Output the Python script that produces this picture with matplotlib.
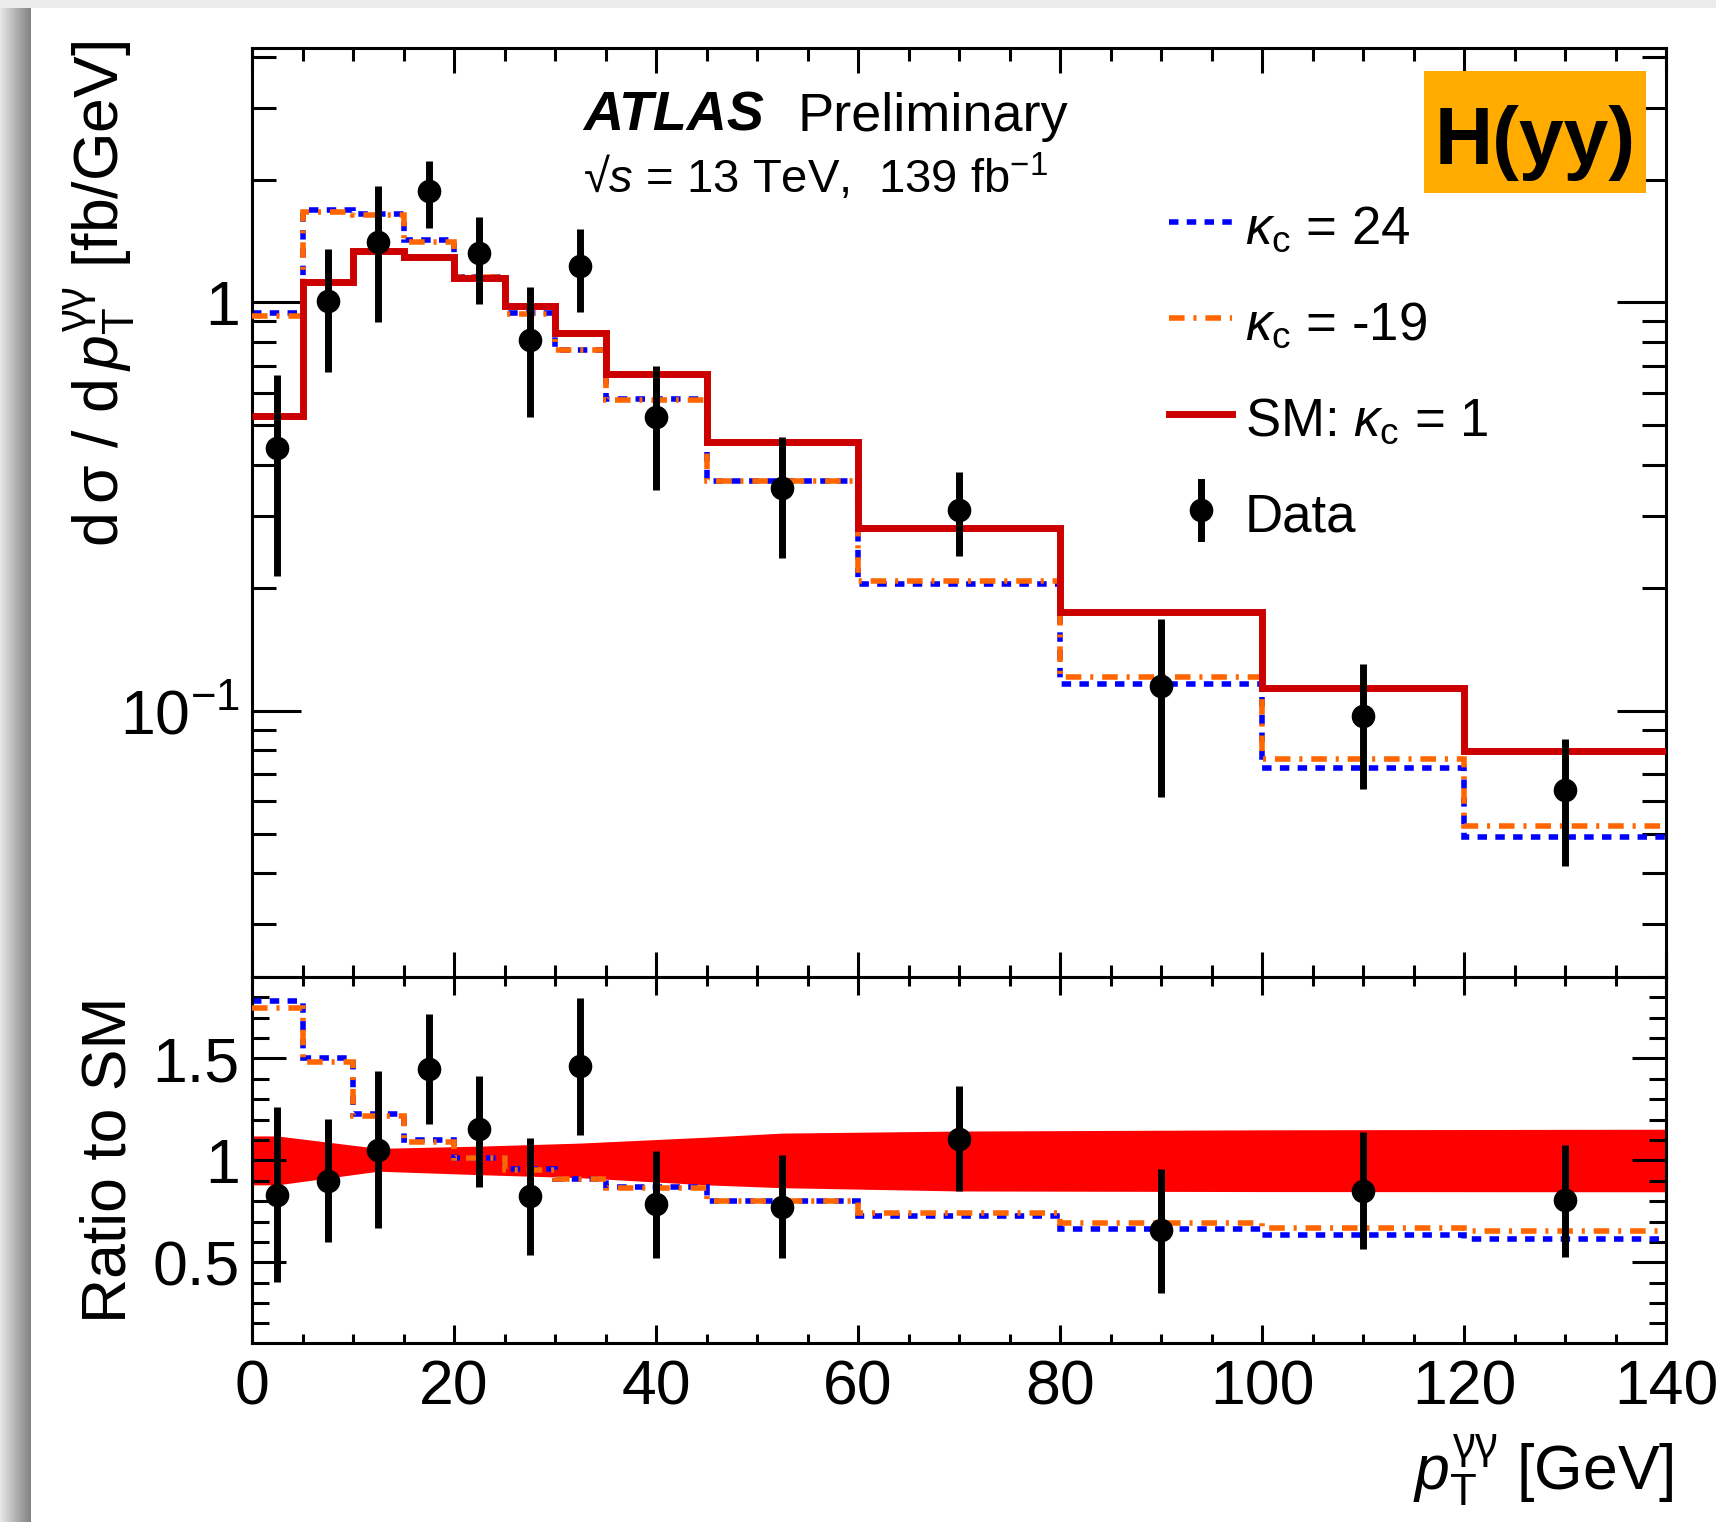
import numpy as np
import matplotlib
matplotlib.use('Agg')
import matplotlib.pyplot as plt
from matplotlib.ticker import MultipleLocator, FixedLocator, FixedFormatter, LogLocator, NullFormatter
from matplotlib.patches import Rectangle

plt.rcParams['font.family'] = ['Liberation Sans', 'DejaVu Sans']
plt.rcParams['mathtext.fontset'] = 'custom'
plt.rcParams['mathtext.rm'] = 'Liberation Sans'
plt.rcParams['mathtext.it'] = 'Liberation Sans:italic'
plt.rcParams['mathtext.bf'] = 'Liberation Sans:bold'
plt.rcParams['mathtext.sf'] = 'Noto Sans'

# pT(yy) binning and predicted differential cross sections [fb/GeV]
edges = [0, 5, 10, 15, 20, 25, 30, 35, 45, 60, 80, 100, 120, 140]
sm = [0.528, 1.12, 1.34, 1.29, 1.145, 0.98, 0.84, 0.667, 0.456, 0.281, 0.175, 0.114, 0.0796]
kc_24 = [0.94, 1.68, 1.648, 1.419, 1.156, 0.941, 0.764, 0.580, 0.365, 0.205, 0.1164, 0.0724, 0.049]
kc_m19 = [0.924, 1.663, 1.635, 1.406, 1.156, 0.936, 0.764, 0.577, 0.365, 0.208, 0.121, 0.0764, 0.0521]

# measured points with total uncertainty band edges
data_x = [2.5, 7.5, 12.5, 17.5, 22.5, 27.5, 32.5, 40, 52.5, 70, 90, 110, 130]
data_y = [0.439, 1.006, 1.41, 1.87, 1.32, 0.807, 1.23, 0.523, 0.352, 0.311, 0.115, 0.097, 0.064]
data_hi = [0.666, 1.35, 1.925, 2.215, 1.62, 1.09, 1.51, 0.697, 0.468, 0.384, 0.168, 0.13, 0.0855]
data_lo = [0.214, 0.674, 0.898, 1.52, 0.994, 0.523, 0.945, 0.348, 0.237, 0.239, 0.0615, 0.0645, 0.0418]

# SM theory uncertainty in the ratio panel
band_x = [0, 2.5, 12.5, 22.5, 32.5, 45, 52.5, 70, 100, 140]
band_lo = [0.88, 0.88, 0.947, 0.93, 0.915, 0.88, 0.866, 0.85, 0.847, 0.846]
band_hi = [1.12, 1.12, 1.059, 1.07, 1.085, 1.114, 1.134, 1.144, 1.15, 1.153]

blue = '#0000ff'
orange = '#ff6600'
red = '#cc0000'
dot_ls = (0, (1.7, 1.5))
dashdot_ls = (0, (2.8, 1.6, 0.55, 1.6))
gg = r'\mathsf{\gamma\gamma}'

fig = plt.figure(figsize=(17.16, 15.22), dpi=100)
fig.patch.set_facecolor('white')

# screenshot frame: light strip on top, shaded strip on the left
fig.patches.append(Rectangle((0, 1 - 8 / 1522), 1, 8 / 1522, transform=fig.transFigure,
                             facecolor='#ececec', edgecolor='none', zorder=0))
sh = fig.add_axes([0, 0, 31 / 1716, 1])
grad = np.linspace(0.94, 0.64, 64) ** 1.5
sh.imshow(np.tile(grad, (8, 1)), aspect='auto', cmap='gray', vmin=0, vmax=1, extent=[0, 1, 0, 1])
sh.axis('off')

ax = fig.add_axes([0.1469, 0.3581, 0.824, 0.6104])
rax = fig.add_axes([0.1469, 0.1176, 0.824, 0.2405])

# upper panel
ax.stairs(kc_24, edges, baseline=None, color=blue, linewidth=4, linestyle=dot_ls, zorder=2)
ax.stairs(kc_m19, edges, baseline=None, color=orange, linewidth=4, linestyle=dashdot_ls, zorder=3)
ax.stairs(sm, edges, baseline=None, color=red, linewidth=5, zorder=4)
dy = np.array(data_y)
ax.errorbar(data_x, dy, yerr=[dy - np.array(data_lo), np.array(data_hi) - dy], fmt='o',
            color='k', ms=16, elinewidth=5, capsize=0, zorder=5)

ax.set_yscale('log')
ax.set_xlim(0, 140)
ax.set_ylim(0.0223, 4.2)
ax.yaxis.set_major_locator(FixedLocator([0.1, 1]))
ax.yaxis.set_major_formatter(FixedFormatter([r'$\mathrm{10^{-1}}$', '1']))
ax.yaxis.set_minor_locator(LogLocator(base=10, subs=np.arange(2, 10)))
ax.yaxis.set_minor_formatter(NullFormatter())
ax.xaxis.set_major_locator(MultipleLocator(20))
ax.xaxis.set_minor_locator(MultipleLocator(5))
ax.tick_params(axis='x', labelbottom=False)
ax.set_ylabel(r'd$\,\mathrm{\sigma}$ / d$\,p_{\mathrm{T}}^{' + gg + r'}$ [fb/GeV]', fontsize=45, loc='top')
ax.yaxis.set_label_coords(-0.0805, 1.008)

# lower panel: ratios to the SM prediction
sm_a = np.array(sm)
rax.fill_between(band_x, band_lo, band_hi, color='#ff0000', linewidth=0, zorder=1)
rax.stairs(np.array(kc_24) / sm_a, edges, baseline=None, color=blue, linewidth=4, linestyle=dot_ls, zorder=2)
rax.stairs(np.array(kc_m19) / sm_a, edges, baseline=None, color=orange, linewidth=4, linestyle=dashdot_ls, zorder=3)
r_y = dy / sm_a
rax.errorbar(data_x, r_y, yerr=[r_y - np.array(data_lo) / sm_a, np.array(data_hi) / sm_a - r_y], fmt='o',
             color='k', ms=16, elinewidth=5, capsize=0, zorder=5)
rax.set_xlim(0, 140)
rax.set_ylim(0.104, 1.9)
rax.yaxis.set_major_locator(FixedLocator([0.5, 1, 1.5]))
rax.yaxis.set_major_formatter(FixedFormatter(['0.5', '1', '1.5']))
rax.yaxis.set_minor_locator(MultipleLocator(0.1))
rax.xaxis.set_major_locator(MultipleLocator(20))
rax.xaxis.set_minor_locator(MultipleLocator(5))
rax.set_ylabel('Ratio to SM', fontsize=45)
rax.yaxis.set_label_coords(-0.0805, 0.5)
rax.set_xlabel(r'$p_{\mathrm{T}}^{' + gg + r'}$ [GeV]', fontsize=45, loc='right')
rax.xaxis.set_label_coords(1.005, -0.245)

for a in (ax, rax):
    for s in a.spines.values():
        s.set_linewidth(2.2)
    a.tick_params(which='both', direction='in', top=True, right=True, width=2.2,
                  labelsize=45, pad=9)
ax.tick_params(axis='y', which='major', length=35)
ax.tick_params(axis='y', which='minor', length=17)
ax.tick_params(axis='x', which='major', length=18)
ax.tick_params(axis='x', which='minor', length=9)
rax.tick_params(axis='y', which='major', length=24.5)
rax.tick_params(axis='y', which='minor', length=12)
rax.tick_params(axis='x', which='major', length=13)
rax.tick_params(axis='x', which='minor', length=6.5)
rax.tick_params(axis='x', pad=11)

# labels
ax.text(0.234, 0.9107, 'ATLAS', transform=ax.transAxes, fontsize=40, fontweight='bold',
        fontstyle='italic', va='baseline')
ax.text(0.3855, 0.9107, 'Preliminary', transform=ax.transAxes, fontsize=39, va='baseline')
ax.text(0.234, 0.8439, '\u221a$s$ = 13 TeV,  139 fb$^{-1}$', transform=ax.transAxes,
        fontsize=34, va='baseline')
ax.add_patch(Rectangle((0.8289, 0.8439), 0.157, 0.1313, transform=ax.transAxes,
                       facecolor='#ffab00', edgecolor='none', zorder=6))
ax.text(0.9077, 0.8751, 'H(yy)', transform=ax.transAxes, fontsize=58, fontweight='bold',
        ha='center', va='baseline', zorder=7)

# legend
lx0, lx1, tx = 0.6485, 0.693, 0.7023
rows = [0.8127, 0.7094, 0.6061, 0.5027]
ax.plot([lx0, lx1], [rows[0]] * 2, transform=ax.transAxes, color=blue, lw=4, ls=dot_ls, clip_on=False)
ax.plot([lx0, lx1], [rows[1]] * 2, transform=ax.transAxes, color=orange, lw=4, ls=dashdot_ls, clip_on=False)
ax.plot([lx0, lx1], [rows[2]] * 2, transform=ax.transAxes, color=red, lw=5, clip_on=False)
mx = (lx0 + lx1) / 2
ax.plot([mx, mx], [rows[3] - 0.03, rows[3] + 0.03], transform=ax.transAxes, color='k', lw=5, clip_on=False)
ax.plot([mx], [rows[3]], 'o', transform=ax.transAxes, color='k', ms=16, clip_on=False)
labels = [r'$\kappa_{\mathrm{c}}$ = 24', r'$\kappa_{\mathrm{c}}$ = -19', r'SM: $\kappa_{\mathrm{c}}$ = 1', 'Data']
for y, lab in zip(rows, labels):
    ax.text(tx, y - 0.0237, lab, transform=ax.transAxes, fontsize=38, va='baseline')

fig.savefig('out.png', dpi=100)
